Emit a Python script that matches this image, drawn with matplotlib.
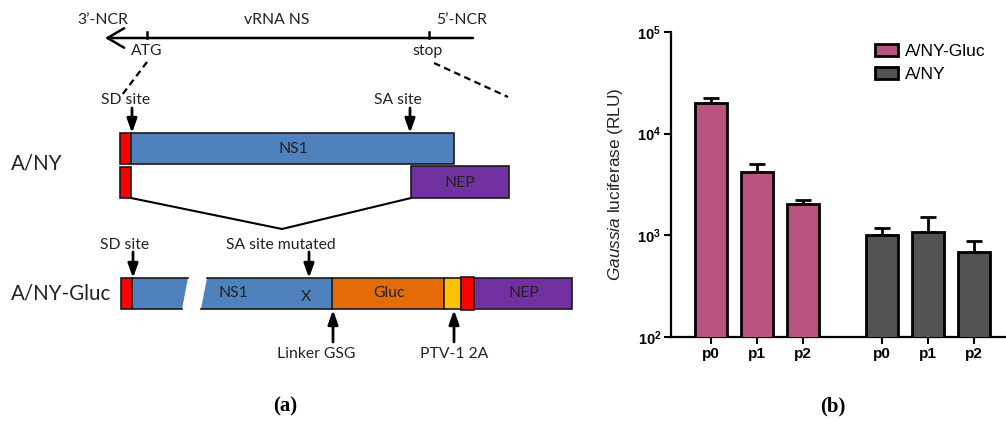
import numpy as np
import matplotlib
matplotlib.use("Agg")
import matplotlib.pyplot as plt
from matplotlib.patches import Rectangle, Polygon, Patch

plt.rcParams['mathtext.fontset'] = 'custom'
plt.rcParams['mathtext.rm'] = 'Liberation Sans'
plt.rcParams['mathtext.it'] = 'Liberation Sans:italic'
plt.rcParams['mathtext.bf'] = 'Liberation Sans:bold'

# data for panel (b)
groups = ['A/NY-Gluc', 'A/NY']
passages = ['p0', 'p1', 'p2']
gluc_mean = [20000, 4200, 2050]
gluc_err = [2400, 800, 170]
ny_mean = [1000, 1070, 680]
ny_err = [180, 450, 200]
group_colors = ['#B9527F', '#525252']
ytick_vals = [1e2, 1e3, 1e4, 1e5]
ytick_labels = [r'$\mathbf{10^{2}}$', r'$\mathbf{10^{3}}$', r'$\mathbf{10^{4}}$', r'$\mathbf{10^{5}}$']

W, H = 1006, 421
fig = plt.figure(figsize=(W / 100, H / 100), dpi=100)

# ---------- panel (a): schematic drawn in pixel coordinates ----------
ax = fig.add_axes([0, 0, 1, 1])
ax.set_xlim(0, W)
ax.set_ylim(H, 0)
ax.axis('off')

dfont = 'Lato'
BLUE = '#4F81BD'
RED = '#FF0000'
PURPLE = '#7030A0'
ORANGE = '#E36C09'
YELLOW = '#FFC000'
EDGE = '#1a1a1a'


def box(x0, x1, y0, y1, color):
    ax.add_patch(Rectangle((x0, y0), x1 - x0, y1 - y0, facecolor=color,
                           edgecolor=EDGE, lw=1.2, zorder=3))


def txt(x, y, s, size=11.3, ha='center', color='#222222'):
    ax.text(x, y, s, ha=ha, va='center', fontsize=size, family=dfont, color=color, zorder=5)


def arrow(x, ytail, ytip):
    ax.annotate('', xy=(x, ytip), xytext=(x, ytail),
                arrowprops=dict(arrowstyle='-|>,head_length=0.7,head_width=0.25',
                                color='black', lw=2, mutation_scale=12, shrinkA=0, shrinkB=0),
                zorder=4)


# vRNA line
ax.annotate('', xy=(105, 38), xytext=(473, 38),
            arrowprops=dict(arrowstyle='->,head_length=0.6,head_width=0.35',
                            color='black', lw=1.8, mutation_scale=20, shrinkA=0, shrinkB=0))
ax.plot([147, 147], [32, 38], color='black', lw=1.8)
ax.plot([429, 429], [32, 38], color='black', lw=1.8)
txt(103, 20, "3\u2019-NCR")
txt(277, 20, "vRNA NS")
txt(462, 20, "5\u2019-NCR")
txt(147, 51, "ATG")
txt(428, 51, "stop")
ax.plot([147, 122], [62, 95], color='black', lw=1.6, ls=(0, (3, 2)))
ax.plot([434, 508], [63, 97], color='black', lw=1.6, ls=(0, (3, 2)))

# A/NY
txt(126, 100, "SD site")
txt(398, 100, "SA site")
arrow(132, 108, 133)
arrow(410, 108, 133)
box(120, 131, 133, 164, RED)
box(131, 454, 133, 164, BLUE)
txt(293, 149, "NS1")
box(120, 131, 167, 198, RED)
box(411, 509, 166, 198, PURPLE)
txt(460, 183, "NEP")
ax.plot([131, 282, 411], [198, 229, 198], color='black', lw=1.5)
txt(11, 164, "A/NY", size=14.8, ha='left')

# A/NY-Gluc
y0, y1 = 278, 309
txt(125, 245, "SD site")
txt(281, 245, "SA site mutated")
arrow(133, 252, 278)
arrow(309, 252, 278)
# broken NS1: filled pieces, outline only on top / bottom / straight ends
ax.add_patch(Polygon([(132, y0), (188, y0), (182, y1), (132, y1)], closed=True,
                     facecolor=BLUE, edgecolor='none', zorder=3))
ax.add_patch(Polygon([(207, y0), (332, y0), (332, y1), (201, y1)], closed=True,
                     facecolor=BLUE, edgecolor='none', zorder=3))
ax.plot([132, 188], [y0, y0], color=EDGE, lw=1.2, zorder=3)
ax.plot([132, 182], [y1, y1], color=EDGE, lw=1.2, zorder=3)
ax.plot([207, 332], [y0, y0], color=EDGE, lw=1.2, zorder=3)
ax.plot([201, 332], [y1, y1], color=EDGE, lw=1.2, zorder=3)
box(121, 132, y0, y1, RED)
box(332, 444, y0, y1, ORANGE)
box(444, 461, y0, y1, YELLOW)
box(461, 474, y0 - 1, y1 + 1, RED)
box(474, 572, y0, y1, PURPLE)
txt(233, 293, "NS1")
txt(306, 297, "X")
txt(389, 293, "Gluc")
txt(524, 293, "NEP")
arrow(333, 342, 310)
arrow(454, 342, 310)
txt(316, 354, "Linker GSG")
txt(454, 354, "PTV-1 2A")
txt(11, 294, "A/NY-Gluc", size=14.8, ha='left')

ax.text(285, 406, "(a)", ha='center', va='center', fontsize=15, family='Liberation Serif',
        fontweight='bold')
ax.text(833, 406, "(b)", ha='center', va='center', fontsize=15, family='Liberation Serif',
        fontweight='bold')

# ---------- panel (b): bar chart ----------
bx = fig.add_axes([671 / W, 1 - 337 / H, (W - 671) / W, (337 - 32) / H])
bx.patch.set_alpha(0)
width = 0.70
offsets = [0, 3.72]
means = [gluc_mean, ny_mean]
errs = [gluc_err, ny_err]
xpos_all = []
for g, name in enumerate(groups):
    xs = np.arange(len(passages)) + offsets[g]
    xpos_all.extend(xs)
    bx.bar(xs, means[g], width=width, color=group_colors[g], edgecolor='black',
           linewidth=2, zorder=3, label=name)
    bx.errorbar(xs, means[g], yerr=[np.zeros(len(xs)), errs[g]], fmt='none',
                ecolor='black', elinewidth=2, capsize=6, capthick=2, zorder=2)

bx.set_yscale('log')
bx.set_ylim(1e2, 1e5)
bx.set_xlim(-0.87, 6.41)
bx.set_yticks(ytick_vals)
bx.set_yticklabels(ytick_labels, fontsize=10.5)
bx.yaxis.set_minor_locator(matplotlib.ticker.NullLocator())
bx.set_xticks(xpos_all)
bx.set_xticklabels(passages * 2, fontsize=11, fontweight='bold', family='Liberation Sans')
bx.tick_params(axis='both', width=1.5, length=5, direction='out', pad=2)
for s in ['top', 'right']:
    bx.spines[s].set_visible(False)
for s in ['left', 'bottom']:
    bx.spines[s].set_linewidth(1.6)
bx.set_ylabel(r'$\it{Gaussia}$ luciferase (RLU)', fontsize=12.4, family='Liberation Sans',
              color='#222222')
bx.yaxis.set_label_coords(-0.137, 0.5)

handles = [Patch(facecolor=group_colors[i], edgecolor='black', linewidth=2, label=groups[i])
           for i in range(len(groups))]
bx.legend(handles=handles, loc='upper left', bbox_to_anchor=(875 / W, 1 - 44 / H),
          bbox_transform=fig.transFigure, frameon=False, borderpad=0, borderaxespad=0,
          handlelength=1.3, handleheight=0.7, handletextpad=0.4, labelspacing=0.45,
          prop={'family': 'Liberation Sans', 'size': 12.5})

fig.savefig('out.png', dpi=100)
